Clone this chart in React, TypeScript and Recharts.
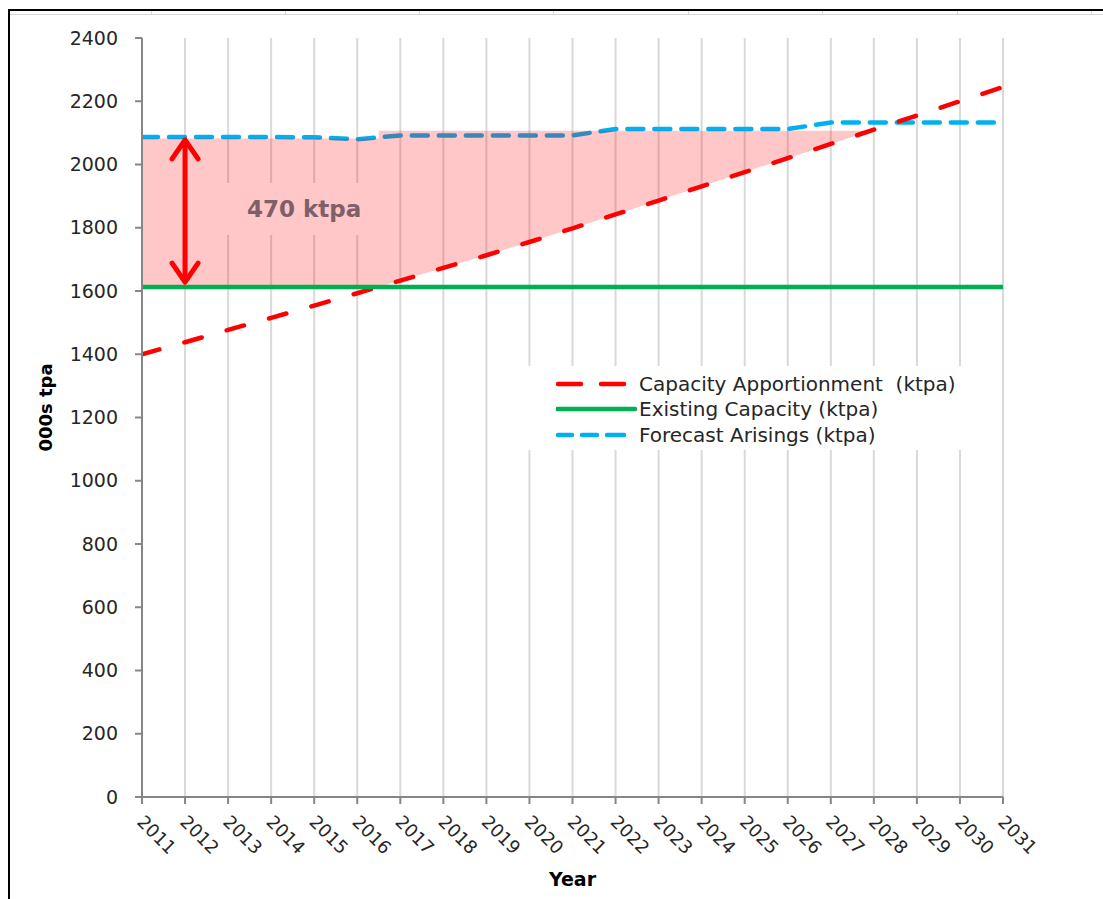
import React from 'react';
import {
  ComposedChart,
  Line,
  Area,
  XAxis,
  YAxis,
  CartesianGrid,
  ReferenceLine,
} from 'recharts';

// ---- Data ----
const years = [2011, 2012, 2013, 2014, 2015, 2016, 2017, 2018, 2019, 2020, 2021, 2022, 2023, 2024, 2025, 2026, 2027, 2028, 2029, 2030, 2031];
const capacityApportionment = [1400, 1438, 1477, 1515, 1554, 1593, 1633, 1673, 1713, 1755, 1798, 1842, 1886, 1931, 1976, 2020, 2065, 2110, 2155, 2200, 2245];
const existingCapacity = [1613, 1613, 1613, 1613, 1613, 1613, 1613, 1613, 1613, 1613, 1613, 1613, 1613, 1613, 1613, 1613, 1613, 1613, 1613, 1613, 1613];
const forecastArisings = [2087, 2087, 2087, 2087, 2086, 2080, 2092, 2092, 2092, 2092, 2092, 2112, 2112, 2112, 2112, 2112, 2133, 2133, 2133, 2133, 2133];

// shaded gap polygon (x position, lower edge, upper edge)
const gapX = [2011, 2016.5, 2016.5, 2017, 2018, 2019, 2020, 2021, 2022, 2023, 2024, 2025, 2026, 2027, 2027.93];
const gapLow = [1613, 1613, 1613, 1633, 1673, 1713, 1755, 1798, 1842, 1886, 1931, 1976, 2020, 2065, 2107];
const gapHigh = [2082, 2082, 2107, 2107, 2107, 2107, 2107, 2107, 2107, 2107, 2107, 2107, 2107, 2107, 2107];

// arrow marking the gap
const arrowYear = 2012;
const arrowTop = 2078;
const arrowBottom = 1628;

const yTicks = [0, 200, 400, 600, 800, 1000, 1200, 1400, 1600, 1800, 2000, 2200, 2400];
const seriesNames = ['Capacity Apportionment  (ktpa)', 'Existing Capacity (ktpa)', 'Forecast Arisings (ktpa)'];
const gapLabel = '470 ktpa';

const redData = years.map((x, i) => ({ x, v: capacityApportionment[i] }));
const greenData = years.map((x, i) => ({ x, v: existingCapacity[i] }));
const blueData = years.map((x, i) => ({ x, v: forecastArisings[i] }));
const gapData = gapX.map((x, i) => ({ x, band: [gapLow[i], gapHigh[i]] }));

const FONT = '"DejaVu Sans", Verdana, sans-serif';
const AXIS = '#868686';
const RED = '#FF0000';
const GREEN = '#00B050';
const BLUE = '#00B0F0';

const XTick = (props: any) => {
  const { x, y, payload } = props;
  const bx = x - 6;
  const by = y + 17;
  return (
    <text
      x={bx}
      y={by}
      transform={`rotate(45, ${bx}, ${by})`}
      textAnchor="start"
      fontFamily={FONT}
      fontSize={18}
      fill="#262626"
    >
      {payload.value}
    </text>
  );
};

const ArrowShape = (props: any) => {
  const { x1, y1, x2, y2 } = props;
  const top = Math.min(y1, y2);
  const bot = Math.max(y1, y2);
  const x = x1;
  return (
    <g stroke={RED} strokeWidth={5} strokeLinecap="round" strokeLinejoin="round" fill="none">
      <line x1={x} y1={top + 2} x2={x} y2={bot - 2} />
      <polyline points={`${x - 13},${top + 19} ${x},${top} ${x + 13},${top + 19}`} />
      <polyline points={`${x - 13},${bot - 19} ${x},${bot} ${x + 13},${bot - 19}`} />
    </g>
  );
};

const LegendRow = ({ top, kind, label }: { top: number; kind: string; label: string }) => (
  <div style={{ position: 'absolute', left: 36, top: top - 13, height: 26, display: 'flex', alignItems: 'center', whiteSpace: 'pre' }}>
    <svg width={83} height={26} style={{ display: 'block' }}>
      {kind === 'red' && (
        <g stroke={RED} strokeWidth={4.5} strokeLinecap="round">
          <line x1={2} y1={13} x2={25} y2={13} />
          <line x1={45} y1={13} x2={68} y2={13} />
        </g>
      )}
      {kind === 'green' && <line x1={1} y1={13} x2={79} y2={13} stroke={GREEN} strokeWidth={4.5} strokeLinecap="round" />}
      {kind === 'blue' && (
        <g stroke={BLUE} strokeWidth={4.5} strokeLinecap="round">
          <line x1={2} y1={13} x2={16} y2={13} />
          <line x1={26} y1={13} x2={41} y2={13} />
          <line x1={51} y1={13} x2={68} y2={13} />
        </g>
      )}
    </svg>
    <span style={{ fontFamily: FONT, fontSize: 20, color: '#262626', lineHeight: '26px', whiteSpace: 'pre' }}>{label}</span>
  </div>
);

export default function App() {
  const cellTicks = [151, 285, 419, 553, 688, 822, 957, 1091];
  return (
    <div style={{ position: 'absolute', left: 0, top: 0, width: 1103, height: 899, background: '#fff', overflow: 'hidden' }}>
      <div style={{ position: 'absolute', left: 0, top: 0 }}>
        <ComposedChart
          width={1103}
          height={899}
          margin={{ top: 38, right: 100, bottom: 0, left: 0 }}
        >
          <CartesianGrid horizontal={false} stroke="#d9d9d9" strokeWidth={2} />
          <XAxis
            dataKey="x"
            type="number"
            domain={[2011, 2031]}
            ticks={years}
            interval={0}
            allowDataOverflow
            height={102}
            tickSize={7}
            axisLine={{ stroke: AXIS, strokeWidth: 2 }}
            tickLine={{ stroke: AXIS, strokeWidth: 2 }}
            tick={<XTick />}
            label={{
              content: (p: any) => {
                const vb = p.viewBox || {};
                return (
                  <text x={vb.x + vb.width / 2} y={vb.y + 89} textAnchor="middle" fontFamily={FONT} fontWeight="bold" fontSize={19} fill="#000">
                    Year
                  </text>
                );
              },
            }}
          />
          <YAxis
            type="number"
            domain={[0, 2400]}
            ticks={yTicks}
            interval={0}
            width={142}
            tickSize={7}
            tickMargin={17}
            axisLine={{ stroke: AXIS, strokeWidth: 2 }}
            tickLine={{ stroke: AXIS, strokeWidth: 2 }}
            tick={{ fontFamily: FONT, fontSize: 19, fill: '#262626' }}
            label={{
              content: (p: any) => {
                const vb = p.viewBox || {};
                const cx = 45;
                const cy = vb.y + vb.height / 2 - 10;
                return (
                  <text x={cx} y={cy} transform={`rotate(-90, ${cx}, ${cy})`} textAnchor="middle" dominantBaseline="central" fontFamily={FONT} fontWeight="bold" fontSize={18} fill="#000">
                    000s tpa
                  </text>
                );
              },
            }}
          />
          <Line
            data={blueData}
            dataKey="v"
            type="linear"
            stroke={BLUE}
            strokeWidth={4.5}
            strokeDasharray="16 11"
            strokeLinecap="round"
            dot={false}
            activeDot={false}
            isAnimationActive={false}
            zIndex={390}
          />
          <Area
            data={gapData}
            dataKey="band"
            type="linear"
            stroke="none"
            fill={RED}
            fillOpacity={0.22}
            isAnimationActive={false}
            activeDot={false}
            zIndex={395}
          />
          <Line
            data={redData}
            dataKey="v"
            type="linear"
            stroke={RED}
            strokeWidth={4.5}
            strokeDasharray="18 26"
            strokeLinecap="round"
            dot={false}
            activeDot={false}
            isAnimationActive={false}
          />
          <Line
            data={greenData}
            dataKey="v"
            type="linear"
            stroke={GREEN}
            strokeWidth={4.5}
            dot={false}
            activeDot={false}
            isAnimationActive={false}
          />
          <ReferenceLine
            segment={[{ x: arrowYear, y: arrowTop }, { x: arrowYear, y: arrowBottom }]}
            shape={ArrowShape}
            ifOverflow="visible"
          />
        </ComposedChart>
      </div>

      {/* gap label text box */}
      <div style={{ position: 'absolute', left: 200, top: 183, width: 190, height: 52, background: 'rgb(255,199,199)' }}>
        <span style={{ position: 'absolute', left: 47, top: 0, lineHeight: '52px', fontFamily: FONT, fontWeight: 'bold', fontSize: 23, color: '#7F6068', whiteSpace: 'nowrap' }}>
          {gapLabel}
        </span>
      </div>

      {/* legend */}
      <div style={{ position: 'absolute', left: 520, top: 366, width: 465, height: 84, background: '#fff' }}>
        <LegendRow top={18} kind="red" label={seriesNames[0]} />
        <LegendRow top={43} kind="green" label={seriesNames[1]} />
        <LegendRow top={69} kind="blue" label={seriesNames[2]} />
      </div>

      {/* frame */}
      <div style={{ position: 'absolute', left: 9, top: 9, width: 1094, height: 2, background: '#000' }} />
      <div style={{ position: 'absolute', left: 8, top: 9, width: 2, height: 890, background: '#000' }} />
      <div style={{ position: 'absolute', left: 10, top: 14, width: 1093, height: 1, background: '#d6d6d6' }} />
      {cellTicks.map((cx) => (
        <div key={cx} style={{ position: 'absolute', left: cx, top: 11, width: 1, height: 4, background: '#d6d6d6' }} />
      ))}
    </div>
  );
}
